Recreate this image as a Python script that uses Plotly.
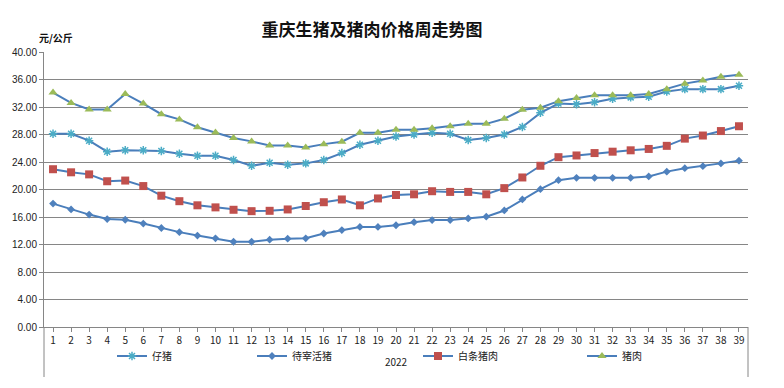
import plotly.graph_objects as go

weeks = list(range(1, 40))
week_labels = [str(w) for w in weeks]

piglet = [28.1, 28.1, 27.1, 25.5, 25.7, 25.7, 25.6, 25.2, 24.9, 24.9,
          24.3, 23.45, 23.9, 23.6, 23.8, 24.3, 25.3, 26.5, 27.1, 27.7,
          28.0, 28.25, 28.1, 27.2, 27.5, 28.0, 29.1, 31.15, 32.5, 32.4,
          32.7, 33.2, 33.4, 33.5, 34.25, 34.6, 34.6, 34.6, 35.1]
live_hog = [17.95, 17.1, 16.35, 15.7, 15.6, 15.05, 14.4, 13.8, 13.3, 12.9,
            12.4, 12.4, 12.7, 12.85, 12.9, 13.6, 14.1, 14.55, 14.55, 14.8,
            15.25, 15.55, 15.55, 15.8, 16.05, 16.95, 18.55, 20.05, 21.35, 21.7,
            21.7, 21.7, 21.7, 21.9, 22.6, 23.1, 23.4, 23.8, 24.2]
carcass = [22.95, 22.5, 22.2, 21.2, 21.3, 20.5, 19.1, 18.3, 17.7, 17.4,
           17.05, 16.85, 16.9, 17.1, 17.6, 18.15, 18.55, 17.7, 18.7, 19.2,
           19.3, 19.75, 19.65, 19.65, 19.3, 20.2, 21.75, 23.45, 24.7, 24.95,
           25.3, 25.5, 25.7, 25.9, 26.35, 27.4, 27.85, 28.5, 29.2]
pork = [34.1, 32.6, 31.65, 31.65, 33.9, 32.5, 30.95, 30.2, 29.05, 28.3,
        27.5, 27.0, 26.4, 26.4, 26.1, 26.6, 26.95, 28.25, 28.25, 28.7,
        28.7, 28.9, 29.2, 29.55, 29.55, 30.3, 31.6, 31.9, 32.85, 33.3,
        33.7, 33.7, 33.7, 33.9, 34.6, 35.4, 35.85, 36.4, 36.7]

series_names = ["仔猪", "待宰活猪", "白条猪肉", "猪肉"]
y_ticks = [0, 4, 8, 12, 16, 20, 24, 28, 32, 36, 40]

LINE = "#4A7EBB"
FONT = "Noto Sans CJK SC"

styles = [
    dict(symbol="asterisk-open", color="#4BACC6", size=7, line=dict(color="#4BACC6", width=1.5)),
    dict(symbol="diamond", color="#4F81BD", size=6, line=dict(color="#4F81BD", width=0)),
    dict(symbol="square", color="#C0504D", size=8, line=dict(color="#C0504D", width=0)),
    dict(symbol="triangle-up", color="#9BBB59", size=8, line=dict(color="#9BBB59", width=0)),
]

fig = go.Figure()
data = [piglet, live_hog, carcass, pork]
legends = ["legend", "legend2", "legend3", "legend4"]
for name, vals, st, lg in zip(series_names, data, styles, legends):
    fig.add_trace(go.Scatter(
        x=weeks, y=vals, mode="lines+markers", name=name,
        line=dict(color=LINE, width=2),
        marker=st, legend=lg,
    ))

# page is rendered with an 8px body margin, so figure coords = page coords - 8
OFF = 8
PL, PR, PT, PB = 44, 748, 52, 327  # plot area in page pixels
PW, PH = PR - PL, PB - PT

leg_common = dict(orientation="h", yanchor="middle", xanchor="left",
                  font=dict(family=FONT, size=10, color="#222"),
                  bgcolor="rgba(0,0,0,0)", itemwidth=30)
leg_x = [112, 252, 418, 582]
lay_leg = {}
for lg, px in zip(legends, leg_x):
    lay_leg[lg] = dict(leg_common, x=(px - PL) / PW, y=(PB - 356) / PH)

fig.update_layout(
    width=784, height=388,
    margin=dict(l=PL - OFF, r=784 - PR + OFF, t=PT - OFF, b=388 - PB + OFF, autoexpand=False),
    paper_bgcolor="white", plot_bgcolor="white",
    title=dict(text="<b>重庆生猪及猪肉价格周走势图</b>", x=(372 - OFF) / 784, xanchor="center",
               y=1 - (30 - OFF) / 388, yanchor="middle",
               font=dict(family=FONT, size=17, color="#111")),
    showlegend=True,
    **lay_leg,
    xaxis=dict(range=[0.5, 39.5], tickmode="array", tickvals=weeks, ticktext=week_labels,
               showgrid=False, zeroline=False, showline=True, linecolor="#868686", linewidth=1,
               ticks="outside", ticklen=4, tickcolor="#868686", automargin=False,
               tickfont=dict(family=FONT, size=10, color="#222"),
               title=dict(text="2022", font=dict(family=FONT, size=10, color="#222"), standoff=12)),
    yaxis=dict(range=[0, 40], tickmode="array", tickvals=y_ticks, tickformat=".2f",
               showgrid=True, gridcolor="#868686", gridwidth=1, zeroline=False,
               showline=True, linecolor="#868686", linewidth=1, automargin=False,
               ticks="outside", ticklen=4, tickcolor="#868686",
               tickfont=dict(family="Liberation Sans", size=10, color="#222")),
    annotations=[dict(text="<b>元/公斤</b>", xref="paper", yref="paper",
                      x=(56 - PL) / PW, y=(PB - 38) / PH, xanchor="center", yanchor="middle",
                      showarrow=False, font=dict(family=FONT, size=10, color="#111"))],
    shapes=[
        dict(type="line", xref="paper", yref="paper", x0=0, x1=0, y0=0, y1=-50 / PH,
             line=dict(color="#868686", width=1)),
        dict(type="line", xref="paper", yref="paper", x0=1, x1=1, y0=0, y1=-50 / PH,
             line=dict(color="#868686", width=1)),
    ],
)

fig.write_html("out.html")
